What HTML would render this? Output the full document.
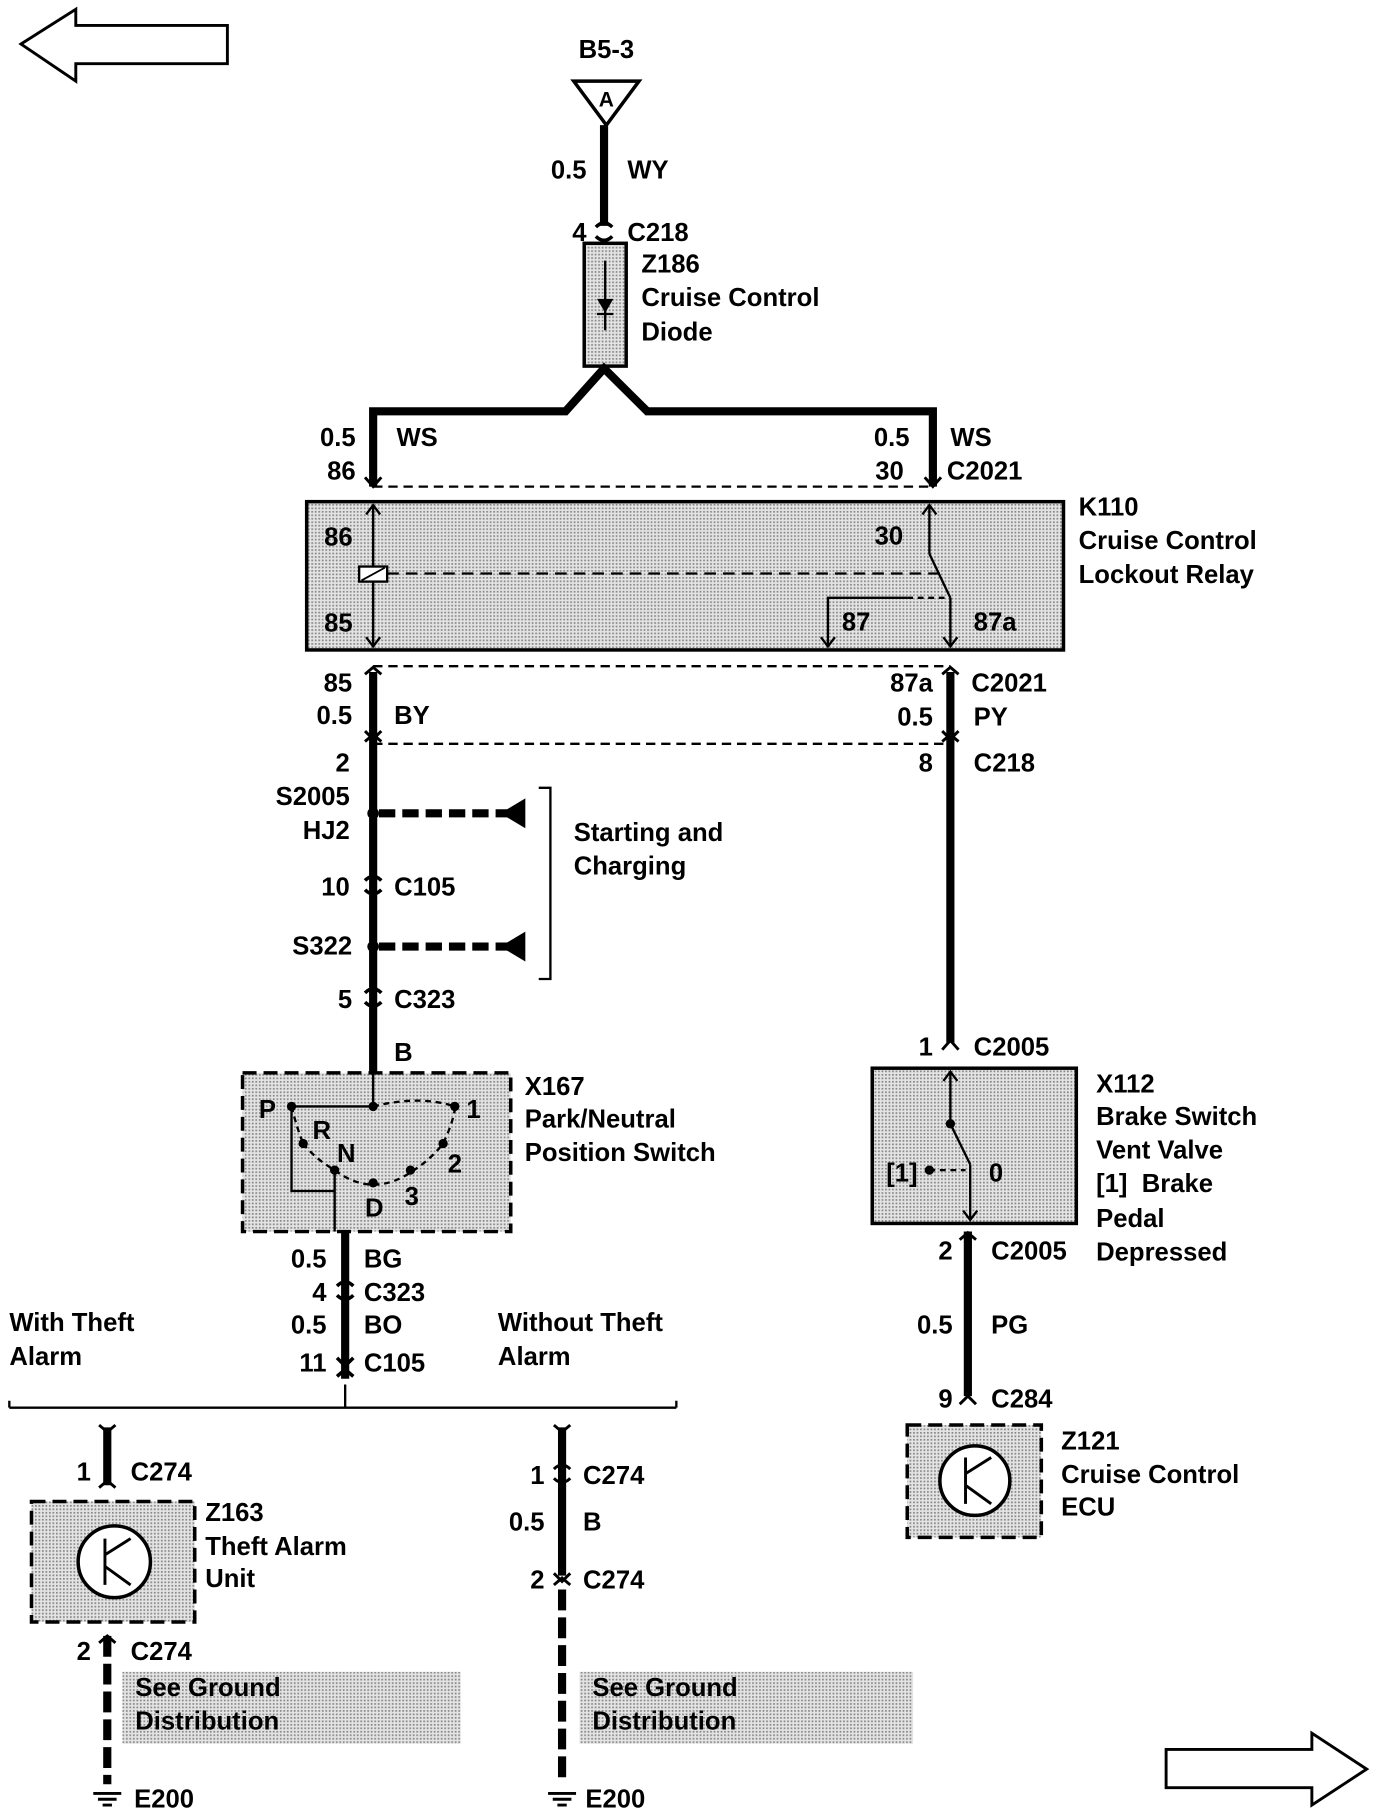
<!DOCTYPE html>
<html><head><meta charset="utf-8"><style>
html,body{margin:0;padding:0;background:#fff;}
svg{display:block}
text{font-family:"Liberation Sans",sans-serif;font-weight:bold;font-size:22px;fill:#000}
.r{text-anchor:end}
.c{text-anchor:middle}
</style></head><body>
<svg width="1376" height="1812" viewBox="0 0 1180 1564" preserveAspectRatio="none" xmlns="http://www.w3.org/2000/svg">
<defs>
<pattern id="g" width="3" height="3" patternUnits="userSpaceOnUse"><rect width="3" height="3" fill="#e4e4e4"/><rect width="1.5" height="1.5" fill="#888"/></pattern>
</defs>
<g fill="none" stroke="#000">
<!-- arrows -->
<polygon points="18,38 65,8 65,22 195,22 195,55 65,55 65,70" stroke-width="2.5" fill="#fff"/>
<polygon points="1172,1527 1125,1496 1125,1510 1000,1510 1000,1543 1125,1543 1125,1558" stroke-width="2.5" fill="#fff"/>
<!-- top -->
<polygon points="492,70 548,70 520,108" stroke-width="3" fill="#fff"/>
<line x1="518" y1="108" x2="518" y2="195" stroke-width="7"/>
<path d="M511,196 q7,-7 14,0 M511,204 q7,7 14,0" stroke-width="3"/>
<rect x="501" y="210" width="36" height="106" fill="url(#g)" stroke-width="3"/>
<line x1="519" y1="225" x2="519" y2="285" stroke-width="2"/>
<polygon points="512,258 526,258 519,270" fill="#000" stroke="none"/>
<line x1="512" y1="271" x2="526" y2="271" stroke-width="2"/>
<polyline points="320,420 320,355 485,355 518,318 555,355 800,355 800,420" stroke-width="7" stroke-linejoin="miter"/>
<line x1="320" y1="420" x2="800" y2="420" stroke-width="2" stroke-dasharray="8,5"/>
<path d="M313,412 l7,8 l7,-8 M793,412 l7,8 l7,-8" stroke-width="2.5"/>
<!-- relay -->
<rect x="263" y="433" width="649" height="128" fill="url(#g)" stroke-width="3"/>
<line x1="320" y1="436" x2="320" y2="558" stroke-width="2"/>
<path d="M314,444 l6,-8 l6,8 M314,550 l6,8 l6,-8" stroke-width="2"/>
<rect x="308" y="489" width="24" height="13" fill="#fff" stroke-width="2"/>
<line x1="310" y1="501" x2="330" y2="490" stroke-width="1.5"/>
<line x1="332" y1="495" x2="808" y2="495" stroke-width="2" stroke-dasharray="10,6"/>
<line x1="797" y1="436" x2="797" y2="478" stroke-width="2"/>
<path d="M791,444 l6,-8 l6,8" stroke-width="2"/>
<line x1="797" y1="478" x2="815" y2="516" stroke-width="2"/>
<line x1="815" y1="516" x2="815" y2="558" stroke-width="2"/>
<path d="M809,550 l6,8 l6,-8" stroke-width="2"/>
<line x1="778" y1="516" x2="810" y2="516" stroke-width="2" stroke-dasharray="5,4"/>
<polyline points="778,516 710,516 710,558" stroke-width="2"/>
<path d="M704,550 l6,8 l6,-8" stroke-width="2"/>
<!-- below relay -->
<line x1="320" y1="575" x2="815" y2="575" stroke-width="2" stroke-dasharray="8,5"/>
<line x1="320" y1="642" x2="815" y2="642" stroke-width="2" stroke-dasharray="8,5"/>
<line x1="320" y1="580" x2="320" y2="955" stroke-width="7"/>
<line x1="815" y1="580" x2="815" y2="900" stroke-width="7"/>
<path d="M313,582 l7,-6 l7,6 M808,582 l7,-6 l7,6 M313,631 l7,7 l7,-7 M313,640 l7,-6 l7,6 M808,631 l7,7 l7,-7 M808,640 l7,-6 l7,6" stroke-width="2.5"/>
<path d="M313,760 q7,-7 14,0 M313,768 q7,7 14,0 M313,857 q7,-7 14,0 M313,865 q7,7 14,0" stroke-width="3"/>
<path d="M808,906 l7,-8 l7,8" stroke-width="2.5"/>
<line x1="325" y1="702" x2="440" y2="702" stroke-width="7" stroke-dasharray="14,6"/>
<line x1="325" y1="817" x2="440" y2="817" stroke-width="7" stroke-dasharray="14,6"/>
<polygon points="430,702 450,690 450,714" fill="#000"/>
<polygon points="430,817 450,805 450,829" fill="#000"/>
<polyline points="462,680 472,680 472,845 462,845" stroke-width="2"/>
<!-- X167 -->
<rect x="208" y="926" width="230" height="137" fill="url(#g)" stroke-width="3" stroke-dasharray="12,6"/>
<polyline points="320,926 320,955 250,955 250,1028 287,1028" stroke-width="2"/>
<path d="M320,955 Q360,945 390,955" stroke-width="2" stroke-dasharray="5,4"/>
<path d="M250,955 Q255,975 260,987 M260,987 Q270,1000 287,1010 Q320,1035 355,1010 Q370,1000 380,987 Q388,970 390,958" stroke-width="2" stroke-dasharray="5,4"/>
<line x1="287" y1="1010" x2="287" y2="1063" stroke-width="2"/>
<g fill="#000" stroke="none">
<circle cx="320" cy="955" r="4"/><circle cx="250" cy="955" r="4"/><circle cx="390" cy="955" r="4"/>
<circle cx="260" cy="987" r="4"/><circle cx="287" cy="1010" r="4"/><circle cx="320" cy="1021" r="4"/><circle cx="352" cy="1010" r="4"/><circle cx="380" cy="987" r="4"/>
<circle cx="320" cy="702" r="5"/><circle cx="320" cy="817" r="5"/>
</g>
<line x1="296" y1="1063" x2="296" y2="1190" stroke-width="7"/>
<path d="M289,1110 q7,-7 14,0 M289,1118 q7,7 14,0 M289,1172 l7,7 l7,-7 M289,1188 l7,-6 l7,6" stroke-width="3"/>
<line x1="8" y1="1215" x2="580" y2="1215" stroke-width="2"/>
<path d="M8,1215 v-6 M580,1215 v-6 M296,1215 v-20" stroke-width="2"/>
<!-- left branch -->
<line x1="92" y1="1232" x2="92" y2="1282" stroke-width="7"/>
<path d="M85,1230 l7,6 l7,-6 M85,1284 l7,-6 l7,6" stroke-width="2.5"/>
<rect x="27" y="1296" width="140" height="104" fill="url(#g)" stroke-width="3" stroke-dasharray="12,6"/>
<circle cx="98" cy="1348" r="31" fill="#fff" stroke-width="3"/>
<path d="M90,1328 v40 M90,1342 l22,-14 M90,1352 l22,16" stroke-width="2.5"/>
<line x1="92" y1="1412" x2="92" y2="1540" stroke-width="7" stroke-dasharray="18,6"/>
<path d="M85,1418 l7,-6 l7,6" stroke-width="2.5"/>
<!-- middle branch -->
<line x1="482" y1="1232" x2="482" y2="1360" stroke-width="7"/>
<path d="M475,1230 l7,6 l7,-6 M475,1268 q7,-7 14,0 M475,1276 q7,7 14,0 M475,1358 l7,7 l7,-7 M475,1368 l7,-6 l7,6" stroke-width="2.5"/>
<line x1="482" y1="1372" x2="482" y2="1540" stroke-width="7" stroke-dasharray="18,6"/>
<!-- grounds -->
<path d="M80,1548 h24 M84,1553 h16 M88,1558 h8 M470,1548 h24 M474,1553 h16 M478,1558 h8" stroke-width="2.5"/>
<!-- X112 -->
<rect x="748" y="922" width="175" height="134" fill="url(#g)" stroke-width="3"/>
<line x1="815" y1="925" x2="815" y2="970" stroke-width="2"/>
<path d="M809,933 l6,-8 l6,8" stroke-width="2"/>
<line x1="815" y1="970" x2="832" y2="1005" stroke-width="2"/>
<line x1="832" y1="1005" x2="832" y2="1053" stroke-width="2"/>
<path d="M826,1045 l6,8 l6,-8" stroke-width="2"/>
<line x1="797" y1="1010" x2="828" y2="1010" stroke-width="2" stroke-dasharray="5,4"/>
<g fill="#000" stroke="none"><circle cx="815" cy="970" r="4"/><circle cx="797" cy="1010" r="4"/></g>
<line x1="830" y1="1063" x2="830" y2="1205" stroke-width="7"/>
<path d="M823,1070 l7,-6 l7,6 M823,1212 l7,-7 l7,7" stroke-width="2.5"/>
<!-- Z121 -->
<rect x="778" y="1230" width="115" height="97" fill="url(#g)" stroke-width="3" stroke-dasharray="12,6"/>
<circle cx="836" cy="1278" r="30" fill="#fff" stroke-width="3"/>
<path d="M828,1258 v40 M828,1272 l22,-14 M828,1282 l22,16" stroke-width="2.5"/>
</g>
<rect x="105" y="1443" width="290" height="62" fill="url(#g)"/>
<rect x="497" y="1443" width="286" height="62" fill="url(#g)"/>
<!-- text -->
<text x="520" y="50" class="c">B5-3</text>
<text x="520" y="92" class="c" style="font-size:18px">A</text>
<text x="503" y="154" class="r">0.5</text><text x="538" y="154">WY</text>
<text x="503" y="208" class="r">4</text><text x="538" y="208">C218</text>
<text x="550" y="235">Z186</text><text x="550" y="264">Cruise Control</text><text x="550" y="294">Diode</text>
<text x="305" y="385" class="r">0.5</text><text x="340" y="385">WS</text>
<text x="305" y="414" class="r">86</text>
<text x="780" y="385" class="r">0.5</text><text x="815" y="385">WS</text>
<text x="775" y="414" class="r">30</text><text x="812" y="414">C2021</text>
<text x="278" y="471">86</text><text x="278" y="545">85</text>
<text x="750" y="470">30</text><text x="722" y="544">87</text><text x="835" y="544">87a</text>
<text x="925" y="445">K110</text><text x="925" y="474">Cruise Control</text><text x="925" y="503">Lockout Relay</text>
<text x="302" y="597" class="r">85</text><text x="302" y="625" class="r">0.5</text><text x="338" y="625">BY</text>
<text x="800" y="597" class="r">87a</text><text x="833" y="597">C2021</text>
<text x="800" y="626" class="r">0.5</text><text x="835" y="626">PY</text>
<text x="300" y="666" class="r">2</text><text x="800" y="666" class="r">8</text><text x="835" y="666">C218</text>
<text x="300" y="695" class="r">S2005</text><text x="300" y="724" class="r">HJ2</text>
<text x="300" y="773" class="r">10</text><text x="338" y="773">C105</text>
<text x="302" y="824" class="r">S322</text>
<text x="302" y="870" class="r">5</text><text x="338" y="870">C323</text>
<text x="492" y="726">Starting and</text><text x="492" y="755">Charging</text>
<text x="338" y="916">B</text>
<text x="450" y="945">X167</text><text x="450" y="973">Park/Neutral</text><text x="450" y="1002">Position Switch</text>
<text x="222" y="965">P</text><text x="268" y="983">R</text><text x="289" y="1003">N</text><text x="313" y="1050">D</text><text x="347" y="1040">3</text><text x="384" y="1012">2</text><text x="400" y="965">1</text>
<text x="280" y="1094" class="r">0.5</text><text x="312" y="1094">BG</text>
<text x="280" y="1123" class="r">4</text><text x="312" y="1123">C323</text>
<text x="280" y="1151" class="r">0.5</text><text x="312" y="1151">BO</text>
<text x="280" y="1184" class="r">11</text><text x="312" y="1184">C105</text>
<text x="8" y="1149">With Theft</text><text x="8" y="1178">Alarm</text>
<text x="427" y="1149">Without Theft</text><text x="427" y="1178">Alarm</text>
<text x="800" y="911" class="r">1</text><text x="835" y="911">C2005</text>
<text x="940" y="943">X112</text><text x="940" y="971">Brake Switch</text><text x="940" y="1000">Vent Valve</text><text x="940" y="1029">[1]&#160;&#160;Brake</text><text x="940" y="1059">Pedal</text><text x="940" y="1088">Depressed</text>
<text x="760" y="1020">[1]</text><text x="848" y="1020">0</text>
<text x="817" y="1087" class="r">2</text><text x="850" y="1087">C2005</text>
<text x="817" y="1151" class="r">0.5</text><text x="850" y="1151">PG</text>
<text x="817" y="1215" class="r">9</text><text x="850" y="1215">C284</text>
<text x="910" y="1251">Z121</text><text x="910" y="1280">Cruise Control</text><text x="910" y="1308">ECU</text>
<text x="78" y="1278" class="r">1</text><text x="112" y="1278">C274</text>
<text x="176" y="1313">Z163</text><text x="176" y="1342">Theft Alarm</text><text x="176" y="1370">Unit</text>
<text x="78" y="1433" class="r">2</text><text x="112" y="1433">C274</text>
<text x="467" y="1281" class="r">1</text><text x="500" y="1281">C274</text>
<text x="467" y="1321" class="r">0.5</text><text x="500" y="1321">B</text>
<text x="467" y="1371" class="r">2</text><text x="500" y="1371">C274</text>
<text x="116" y="1464">See Ground</text><text x="116" y="1493">Distribution</text>
<text x="508" y="1464">See Ground</text><text x="508" y="1493">Distribution</text>
<text x="115" y="1560">E200</text><text x="502" y="1560">E200</text>
</svg>
</body></html>
